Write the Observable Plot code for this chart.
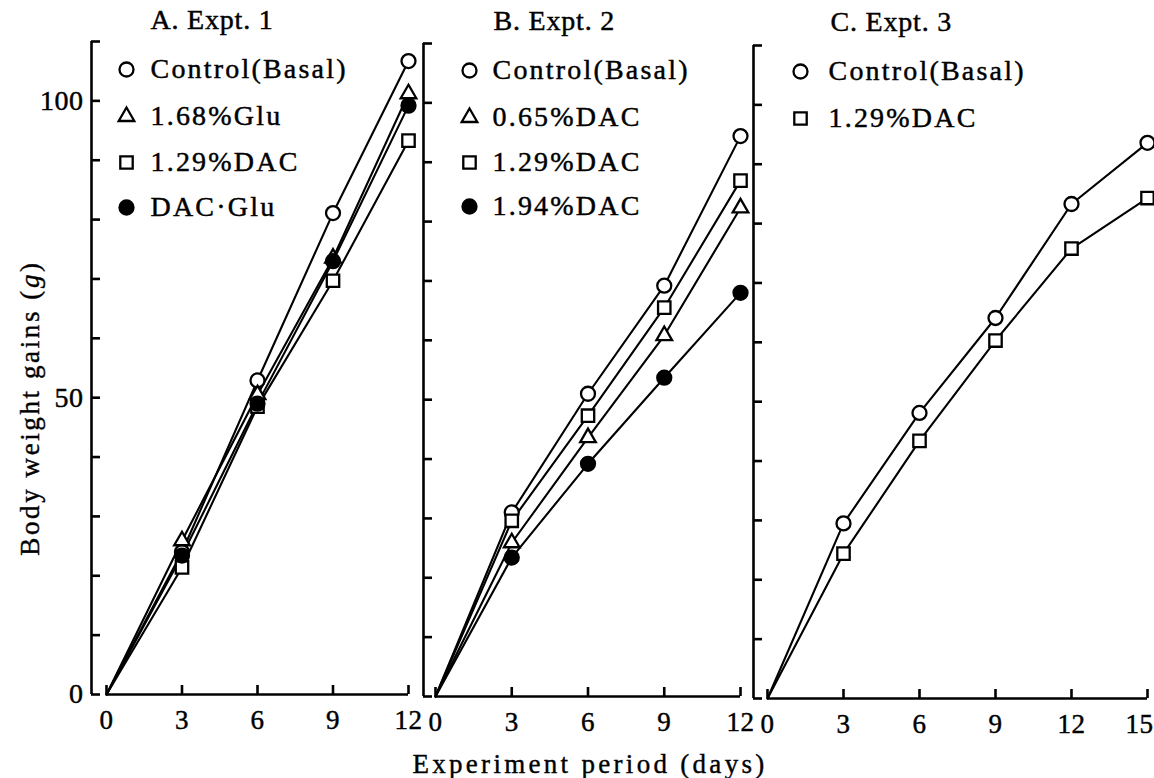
<!DOCTYPE html>
<html><head><meta charset="utf-8">
<script src="https://cdn.jsdelivr.net/npm/d3@7"></script>
<script src="https://cdn.jsdelivr.net/npm/@observablehq/plot@0.6"></script>
<style>
html,body{margin:0;padding:0;background:#fff;}
#chart{position:relative;width:1154px;height:778px;overflow:hidden;font-family:"Liberation Serif","Times New Roman",serif;color:#000;}
#chart svg{position:absolute;top:0;overflow:visible;}
.lab{position:absolute;white-space:nowrap;font-size:27px;line-height:1;-webkit-text-stroke:0.4px #000;}
</style></head><body><div id="chart"></div>
<script>
// ---- data ----
const daysAB = [0, 3, 6, 9, 12];
const daysC = [0, 3, 6, 9, 12, 15];
const ticksAB = [0, 3, 6, 9, 12];
const ticksC = [0, 3, 6, 9, 12, 15];
const yTickValues = [0, 10, 20, 30, 40, 50, 60, 70, 80, 90, 100, 110];
const yTickLabels = [0, 50, 100];

const titles = ["A. Expt. 1", "B. Expt. 2", "C. Expt. 3"];
const labelsA = ["Control(Basal)", "1.68%Glu", "1.29%DAC", "DAC\u00B7Glu"];
const labelsB = ["Control(Basal)", "0.65%DAC", "1.29%DAC", "1.94%DAC"];
const labelsC = ["Control(Basal)", "1.29%DAC"];

const aControl = [0, 24.0, 52.9, 81.1, 106.7];
const aGlu     = [0, 25.9, 50.5, 73.5, 101.2];
const aDAC     = [0, 21.4, 48.5, 69.7, 93.3];
const aDACGlu  = [0, 23.4, 49.0, 73.0, 99.2];

const bControl = [0, 31.0, 51.0, 69.2, 94.4];
const bDAC065  = [0, 25.9, 43.6, 60.8, 82.3];
const bDAC129  = [0, 29.6, 47.3, 65.5, 86.9];
const bDAC194  = [0, 23.4, 39.2, 53.7, 68.0];

const cControl = [0, 29.5, 48.1, 64.1, 83.3, 93.6];
const cDAC129  = [0, 24.4, 43.4, 60.3, 75.8, 84.3];

const xTitle = "Experiment period (days)";
const yTitle = "Body weight gains";

// ---- symbol styles ----
const openCircle = {symbol: "circle", r: 7, filled: false};
const openTri = {symbol: "triangle", r: 5.8, filled: false};
const openSq = {symbol: "square", r: 7, filled: false};
const fullCircle = {symbol: "circle", r: 7, filled: true};

const H = 778;
const chart = document.getElementById("chart");

function makePanel(cfg) {
  const {left, width, axisX, x0, xEnd, y0, yTop, days, xTicks, series, showY,
         legendSymX, legendTextX, legendRows, title, titleX, titleY} = cfg;
  const marginLeft = axisX - left;
  const marginRight = left + width - xEnd;
  const marginTop = yTop;
  const marginBottom = H - y0;
  const frameW = width - marginLeft - marginRight;
  const frameH = H - marginTop - marginBottom;
  const inset = x0 - axisX;
  const lastDay = days[days.length - 1];
  const sw = 2.6;
  const lastTick = xTicks[xTicks.length - 1];
  const edgeTick = lastTick === 15;
  const marks = [
    Plot.ruleX([0], {y1: 0, y2: 110, dx: -inset, strokeWidth: sw}),
    Plot.tickY(yTickValues, {y: d => d, insetRight: frameW - 9, strokeWidth: sw}),
    Plot.ruleY([0], {x1: 0, x2: lastDay, strokeWidth: sw}),
    Plot.tickX(xTicks, {x: d => d, insetTop: frameH - 9, strokeWidth: sw}),
    Plot.axisX({ticks: edgeTick ? xTicks.slice(0, -1) : xTicks, tickSize: 0, tickPadding: 15, fontSize: 27, label: null})
  ];
  if (edgeTick) marks.push(Plot.axisX({ticks: [lastTick], tickSize: 0, tickPadding: 15, fontSize: 27, label: null, textAnchor: "end", dx: 6}));
  if (showY) marks.push(Plot.axisY({ticks: yTickLabels, tickSize: 0, tickPadding: 8, fontSize: 28, label: null}));
  series.forEach(s => {
    const data = days.map((d, i) => ({day: d, v: s.values[i]}));
    marks.push(Plot.line(data, {x: "day", y: "v", stroke: "black", strokeWidth: 2.1}));
  });
  series.forEach(s => {
    const data = days.map((d, i) => ({day: d, v: s.values[i]})).filter(d => d.day > 0);
    marks.push(Plot.dot(data, {x: "day", y: "v", symbol: s.style.symbol, r: s.style.r,
      fill: s.style.filled ? "black" : "white", stroke: "black", strokeWidth: 2.3}));
  });
  series.forEach((s, i) => {
    marks.push(Plot.dot([s], {frameAnchor: "top-left", dx: legendSymX - axisX, dy: legendRows[i] - yTop,
      symbol: s.style.symbol, r: s.style.r, fill: s.style.filled ? "black" : "white", stroke: "black", strokeWidth: 2.3}));
    marks.push(Plot.text([s], {frameAnchor: "top-left", lineAnchor: "middle", dx: legendTextX - axisX, dy: legendRows[i] - yTop,
      text: d => d.label, textAnchor: "start", fontSize: 28, fill: "black"}));
  });
  marks.push(Plot.text([title], {frameAnchor: "top-left", lineAnchor: "middle", dx: titleX - axisX, dy: titleY - yTop,
    text: d => d, textAnchor: "start", fontSize: 28, fill: "black"}));

  const svg = Plot.plot({
    width, height: H, marginLeft, marginRight, marginTop, marginBottom,
    style: {fontFamily: '"Liberation Serif", "Times New Roman", serif', background: "transparent", overflow: "visible", color: "black"},
    x: {domain: [0, lastDay], insetLeft: inset},
    y: {domain: [0, 110], axis: showY ? undefined : null},
    marks
  });
  svg.style.left = left + "px";
  const sel = d3.select(svg);
  sel.selectAll("text").attr("font-family", '"Liberation Serif", "Times New Roman", serif')
    .attr("stroke", "black").attr("stroke-width", 0.45);
  sel.selectAll('g[aria-label="text"] text').attr("letter-spacing", "2.2px");
  sel.selectAll('g[aria-label="text"]').filter((d, i, n) => i === n.length - 1).selectAll("text").attr("letter-spacing", "0.8px");
  sel.selectAll('g[aria-label$="tick label"] text').attr("letter-spacing", "0.5px");
  chart.appendChild(svg);
}

makePanel({
  left: 0, width: 423, axisX: 91, x0: 106, xEnd: 408, y0: 694, yTop: 41,
  days: daysAB, xTicks: ticksAB, showY: true,
  series: [
    {label: labelsA[0], values: aControl, style: openCircle},
    {label: labelsA[1], values: aGlu, style: openTri},
    {label: labelsA[2], values: aDAC, style: openSq},
    {label: labelsA[3], values: aDACGlu, style: fullCircle}
  ],
  legendSymX: 126, legendTextX: 150, legendRows: [69, 116, 162, 207],
  title: titles[0], titleX: 150, titleY: 20
});
makePanel({
  left: 415, width: 335, axisX: 423, x0: 435, xEnd: 740, y0: 696, yTop: 43,
  days: daysAB, xTicks: ticksAB, showY: false,
  series: [
    {label: labelsB[0], values: bControl, style: openCircle},
    {label: labelsB[1], values: bDAC065, style: openTri},
    {label: labelsB[2], values: bDAC129, style: openSq},
    {label: labelsB[3], values: bDAC194, style: fullCircle}
  ],
  legendSymX: 469, legendTextX: 492, legendRows: [70, 117, 162, 206],
  title: titles[1], titleX: 493, titleY: 21
});
makePanel({
  left: 745, width: 409, axisX: 753, x0: 767, xEnd: 1147, y0: 698, yTop: 45,
  days: daysC, xTicks: ticksC, showY: false,
  series: [
    {label: labelsC[0], values: cControl, style: openCircle},
    {label: labelsC[1], values: cDAC129, style: openSq}
  ],
  legendSymX: 800, legendTextX: 828, legendRows: [71, 118],
  title: titles[2], titleX: 830, titleY: 22
});

const xl = document.createElement("div");
xl.className = "lab";
xl.textContent = xTitle;
xl.style.cssText += "left:590px;top:764px;transform:translate(-50%,-50%);letter-spacing:3.3px;";
chart.appendChild(xl);

const yl = document.createElement("div");
yl.className = "lab";
yl.innerHTML = yTitle + " (<i>g</i>)";
yl.style.cssText += "left:30px;top:408px;transform:translate(-50%,-50%) rotate(-90deg);letter-spacing:2.6px;";
chart.appendChild(yl);
</script>
</body></html>
